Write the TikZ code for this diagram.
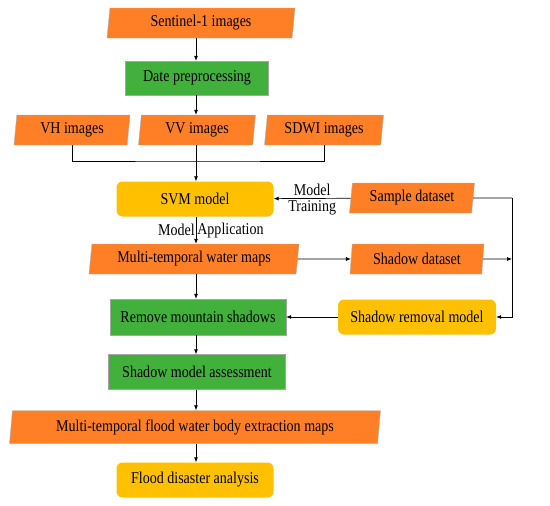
\documentclass[tikz,border=0pt]{standalone}
\usepackage{fontspec}
\setmainfont[FakeStretch=0.85]{Liberation Serif}
\usetikzlibrary{shapes.geometric,arrows.meta}
\definecolor{imgorange}{RGB}{255,127,39}
\definecolor{procgreen}{RGB}{65,177,59}
\definecolor{modelgold}{RGB}{255,192,0}
\tikzset{
  databox/.style={trapezium, trapezium left angle=79, trapezium right angle=101,
    trapezium stretches body, fill=imgorange, draw=gray!60, line width=0.4pt,
    inner sep=0pt, minimum height=30pt, font=\fontsize{16.5}{18}\selectfont},
  procbox/.style={rectangle, fill=procgreen, draw=gray!70, line width=0.4pt,
    inner sep=0pt, minimum height=34pt, font=\fontsize{16.5}{18}\selectfont},
  modelbox/.style={rectangle, rounded corners=6pt, fill=modelgold, draw=none,
    inner sep=0pt, minimum height=35pt, font=\fontsize{16.5}{18}\selectfont},
  flow/.style={-{Latex[length=5pt,width=4pt]}, line width=0.7pt},
  link/.style={line width=0.7pt},
  lbl/.style={font=\fontsize{16.5}{18}\selectfont, inner sep=2pt}
}
\begin{document}
\begin{tikzpicture}[x=1pt,y=-1pt]
\useasboundingbox (0,0) rectangle (550,506);
% input data
\node[databox, minimum width=188pt] (sent) at (201,23) {Sentinel-1 images};
\node[procbox, minimum width=143pt] (prep) at (197,78) {Date preprocessing};
\node[databox, minimum width=116pt] (vh) at (72,130) {VH images};
\node[databox, minimum width=117pt] (vv) at (197,130) {VV images};
\node[databox, minimum width=119pt] (sdwi) at (324,130) {SDWI images};
\coordinate (join) at (197,161);
\coordinate (spine) at (196,0);
% models
\node[modelbox, minimum width=157pt] (svm) at (195,199) {SVM model};
\node[databox, minimum width=125pt] (sample) at (412,198) {Sample dataset};
\node[databox, minimum width=210pt] (water) at (194,259) {Multi-temporal water maps};
\node[databox, minimum width=134pt] (shadowds) at (417,259) {Shadow dataset};
\node[modelbox, minimum width=158pt] (removal) at (417,317) {Shadow removal model};
\node[procbox, minimum width=176pt, minimum height=36pt] (remove) at (198,317) {Remove mountain shadows};
% results
\node[procbox, minimum width=177pt, minimum height=35pt] (assess) at (197,372) {Shadow model assessment};
\node[databox, minimum width=371pt, minimum height=33pt] (flood) at (195,427) {Multi-temporal flood water body extraction maps};
\node[modelbox, minimum width=157pt] (analysis) at (195,480) {Flood disaster analysis};
\coordinate (rtop) at (512,198);
\coordinate (rmid) at (512,259);

\draw[flow] (sent.south -| spine) -- (prep.north -| spine);
\draw[flow] (prep.south -| spine) -- (vv.north -| spine);
\draw[link] (vh.south) |- (join) -| (sdwi.south);
\draw[flow] (vv.south -| spine) -- (svm.north -| spine);
\draw[flow] (sample) -- node[lbl, above] {Model} node[lbl, below] {Training} (svm);
\draw[flow] (svm.south -| spine) -- node[lbl, left, inner sep=1pt] {Model} node[lbl, right, inner sep=1pt] {Application} (water.north -| spine);
\draw[flow] (water) -- (shadowds);
\draw[flow] (water.south -| spine) -- (remove.north -| spine);
\draw[link] (sample.east) -- (rtop);
\draw[flow] (rtop) |- (removal.east);
\draw[flow] (shadowds.east) -- (rmid);
\draw[flow] (removal) -- (remove);
\draw[flow] (remove.south -| spine) -- (assess.north -| spine);
\draw[flow] (assess.south -| spine) -- (flood.north -| spine);
\draw[flow] (flood.south -| spine) -- (analysis.north -| spine);
\end{tikzpicture}
\end{document}
